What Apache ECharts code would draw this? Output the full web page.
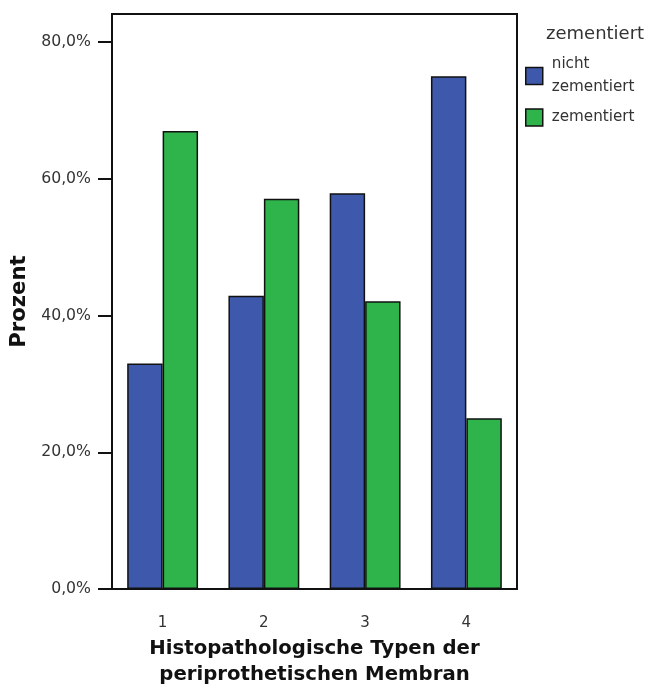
<!DOCTYPE html>
<html>
<head>
<meta charset="utf-8">
<script src="https://cdn.jsdelivr.net/npm/echarts@6/dist/echarts.min.js"></script>
<style>html,body{margin:0;padding:0;background:#fff;overflow:hidden}#c{width:654px;height:693px}</style>
</head>
<body>
<div id="c"></div>
<script>
var categories = ['1', '2', '3', '4'];
var seriesNames = ['nicht\nzementiert', 'zementiert'];
var nichtZementiert = [33.0, 42.9, 57.9, 75.0];
var zementiert = [67.0, 57.1, 42.1, 25.0];
var yTicks = [0, 20, 40, 60, 80];
var legendTitle = 'zementiert';
var yTitle = 'Prozent';
var xTitle = 'Histopathologische Typen der\nperiprothetischen Membran';

var chart = echarts.init(document.getElementById('c'), null, {renderer: 'canvas'});
var fmt = function (v) { return v.toFixed(1).replace('.', ',') + '%'; };
chart.setOption({
  animation: false,
  backgroundColor: '#fff',
  title: {
    text: legendTitle, left: 541, top: 20,
    textStyle: {fontFamily: 'DejaVu Sans', fontSize: 18, fontWeight: 'normal', color: '#333'}
  },
  legend: {
    orient: 'vertical', left: 520, top: 48, itemWidth: 17, itemHeight: 17, itemGap: 7,
    icon: 'rect',
    data: seriesNames,
    itemStyle: {borderColor: '#111', borderWidth: 1.5},
    textStyle: {fontFamily: 'DejaVu Sans', fontSize: 15.2, lineHeight: 23, color: '#333', padding: [0, 0, 0, 4]}
  },
  grid: {left: 112, width: 405, top: 14, height: 583, show: true, borderColor: '#111', borderWidth: 2, backgroundColor: 'transparent'},
  xAxis: {
    type: 'category', data: categories, boundaryGap: true,
    axisLine: {lineStyle: {color: '#111', width: 2}},
    axisTick: {alignWithLabel: true, length: 14, lineStyle: {color: '#111', width: 2}},
    axisLabel: {fontFamily: 'DejaVu Sans', fontSize: 15, color: '#333', margin: 27},
    name: xTitle, nameLocation: 'middle', nameGap: 35,
    nameTextStyle: {fontFamily: 'DejaVu Sans', fontWeight: 'bold', fontSize: 19.7, lineHeight: 26, color: '#111'}
  },
  yAxis: {
    type: 'value', min: 0, max: 84.1,
    splitLine: {show: false},
    axisLine: {show: true, lineStyle: {color: '#111', width: 2}},
    axisTick: {show: true, length: 14, customValues: yTicks, lineStyle: {color: '#111', width: 2}},
    axisLabel: {fontFamily: 'DejaVu Sans', fontSize: 15.7, color: '#333', margin: 21, customValues: yTicks, formatter: fmt},
    name: yTitle, nameLocation: 'middle', nameGap: 73,
    nameTextStyle: {fontFamily: 'DejaVu Sans', fontWeight: 'bold', fontSize: 21.2, color: '#111'}
  },
  series: [
    {name: seriesNames[0], type: 'bar', data: nichtZementiert, barGap: '0%', barCategoryGap: '30%',
     itemStyle: {color: '#3e58ab', borderColor: '#111', borderWidth: 1.5}},
    {name: seriesNames[1], type: 'bar', data: zementiert, barGap: '0%', barCategoryGap: '30%',
     itemStyle: {color: '#2eb44a', borderColor: '#111', borderWidth: 1.5}}
  ]
});
</script>
</body>
</html>
